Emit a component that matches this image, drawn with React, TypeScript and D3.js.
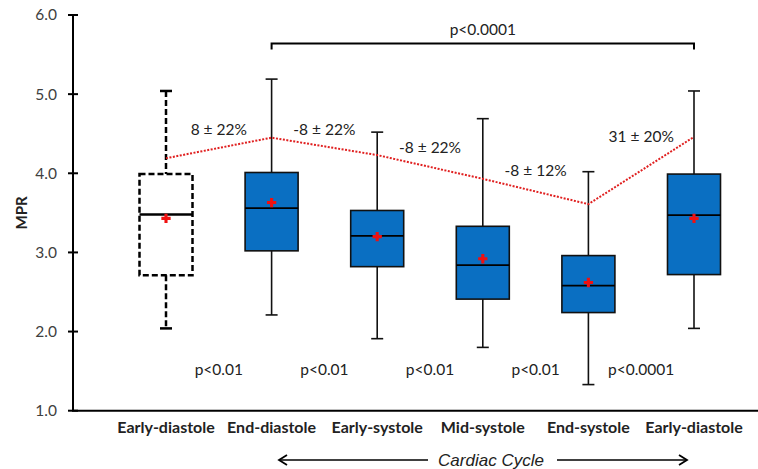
import React from 'react';
import * as d3 from 'd3';

// Box plot statistics (MPR)
const categories = ['Early-diastole', 'End-diastole', 'Early-systole', 'Mid-systole', 'End-systole', 'Early-diastole'];
const whiskerLow = [2.04, 2.21, 1.91, 1.80, 1.33, 2.04];
const q1 = [2.71, 3.02, 2.82, 2.41, 2.24, 2.72];
const median = [3.48, 3.56, 3.21, 2.84, 2.58, 3.47];
const q3 = [3.99, 4.01, 3.53, 3.33, 2.96, 3.99];
const whiskerHigh = [5.04, 5.19, 4.52, 4.69, 4.02, 5.04];
const mean = [3.43, 3.63, 3.20, 2.92, 2.62, 3.43];

// red dotted trend line (one point per phase)
const trend = [4.19, 4.45, 4.23, 3.93, 3.61, 4.46];
const changeLabels = ['8 ± 22%', '-8 ± 22%', '-8 ± 22%', '-8 ± 12%', '31 ± 20%'];
const changeLabelLevel = [4.55, 4.55, 4.33, 4.04, 4.46];
const pLabels = ['p<0.01', 'p<0.01', 'p<0.01', 'p<0.01', 'p<0.0001'];
const pLabelLevel = 1.52;
const overallP = 'p<0.0001';
const bracketLevel = 5.64;

const yTicks = [1, 2, 3, 4, 5, 6];

const W = 758;
const H = 469;
const axisX = 73;

export default function App() {
  const y = d3.scaleLinear().domain([1, 6]).range([410.7, 15]);
  const x = d3.scalePoint<number>().domain(d3.range(categories.length)).range([166, 694]);
  const boxW = 53;
  const capW = 12;
  const blue = '#0A6FC2';
  const font = 'Lato, "Open Sans", sans-serif';

  const trendLine = d3.line<number>().x((_, i) => x(i)!).y(d => y(d));

  const bracketY = y(bracketLevel);
  const arrowY = 460;

  return (
    <svg width={W} height={H} style={{ position: 'absolute', left: 0, top: 0, background: '#fff' }} fontFamily={font}>
      {/* y axis */}
      <line x1={axisX} x2={axisX} y1={y(6)} y2={y(1)} stroke="#000" strokeWidth={2} />
      <line x1={axisX - 1} x2={W} y1={y(1)} y2={y(1)} stroke="#000" strokeWidth={2} />
      {yTicks.map(t => (
        <g key={t}>
          <line x1={axisX - 5} x2={axisX + 5} y1={y(t)} y2={y(t)} stroke="#000" strokeWidth={2} />
          <text x={57} y={y(t)} dy="0.35em" textAnchor="end" fontSize={15.5} fill="#404040">{t.toFixed(1)}</text>
        </g>
      ))}
      <text transform={`translate(22,${y(3.5)}) rotate(-90)`} textAnchor="middle" dy="0.35em" fontSize={15} fontWeight="bold" fill="#222">MPR</text>

      {/* boxes */}
      {categories.map((c, i) => {
        const cx = x(i)!;
        const dashed = i === 0;
        const stroke = dashed
          ? { stroke: '#000', strokeWidth: 2.5, strokeDasharray: '6,3' }
          : { stroke: '#111', strokeWidth: 1.6 };
        return (
          <g key={i}>
            <line x1={cx} x2={cx} y1={y(whiskerHigh[i])} y2={y(q3[i])} {...stroke} />
            <line x1={cx} x2={cx} y1={y(q1[i])} y2={y(whiskerLow[i])} {...stroke} />
            <line x1={cx - capW / 2} x2={cx + capW / 2} y1={y(whiskerHigh[i])} y2={y(whiskerHigh[i])} {...stroke} strokeDasharray="none" />
            <line x1={cx - capW / 2} x2={cx + capW / 2} y1={y(whiskerLow[i])} y2={y(whiskerLow[i])} {...stroke} strokeDasharray="none" />
            <rect x={cx - boxW / 2} y={y(q3[i])} width={boxW} height={y(q1[i]) - y(q3[i])}
              fill={dashed ? 'none' : blue} {...stroke} />
            <line x1={cx - boxW / 2} x2={cx + boxW / 2} y1={y(median[i])} y2={y(median[i])}
              stroke="#000" strokeWidth={dashed ? 2.5 : 1.8} />
            <path d={d3.symbol(d3.symbolCross, 48)()!} transform={`translate(${cx},${y(mean[i])})`} fill="#F01010" />
          </g>
        );
      })}

      {/* trend */}
      <path d={trendLine(trend)!} fill="none" stroke="#E02020" strokeWidth={2} strokeDasharray="2,1.5" />
      {changeLabels.map((l, i) => (
        <text key={i} x={(x(i)! + x(i + 1)!) / 2} y={y(changeLabelLevel[i])} dy="0.35em" textAnchor="middle" fontSize={15.5} fill="#222">{l}</text>
      ))}
      {pLabels.map((l, i) => (
        <text key={i} x={(x(i)! + x(i + 1)!) / 2} y={y(pLabelLevel)} dy="0.35em" textAnchor="middle" fontSize={15.5} fill="#222">{l}</text>
      ))}

      {/* bracket */}
      <path d={`M${x(1)},${bracketY + 6}V${bracketY}H${x(5)}V${bracketY + 6}`} fill="none" stroke="#000" strokeWidth={2} />
      <text x={(x(1)! + x(5)!) / 2} y={bracketY - 14} dy="0.35em" textAnchor="middle" fontSize={15.5} fill="#222">{overallP}</text>

      {/* category labels */}
      {categories.map((c, i) => (
        <text key={i} x={x(i)} y={427} dy="0.35em" textAnchor="middle" fontSize={16} fontWeight="bold" fill="#222">{c}</text>
      ))}

      {/* cardiac cycle arrow */}
      <line x1={279} x2={428} y1={arrowY} y2={arrowY} stroke="#000" strokeWidth={1.6} />
      <path d={`M${287},${arrowY - 5}L${279},${arrowY}L${287},${arrowY + 5}`} fill="none" stroke="#000" strokeWidth={1.8} />
      <line x1={557} x2={687} y1={arrowY} y2={arrowY} stroke="#000" strokeWidth={1.6} />
      <path d={`M${679},${arrowY - 5}L${687},${arrowY}L${679},${arrowY + 5}`} fill="none" stroke="#000" strokeWidth={1.8} />
      <text x={491} y={arrowY} dy="0.35em" textAnchor="middle" fontSize={17} fontStyle="italic" fontFamily='"Liberation Sans", Arial, sans-serif' fill="#222">Cardiac Cycle</text>
    </svg>
  );
}
